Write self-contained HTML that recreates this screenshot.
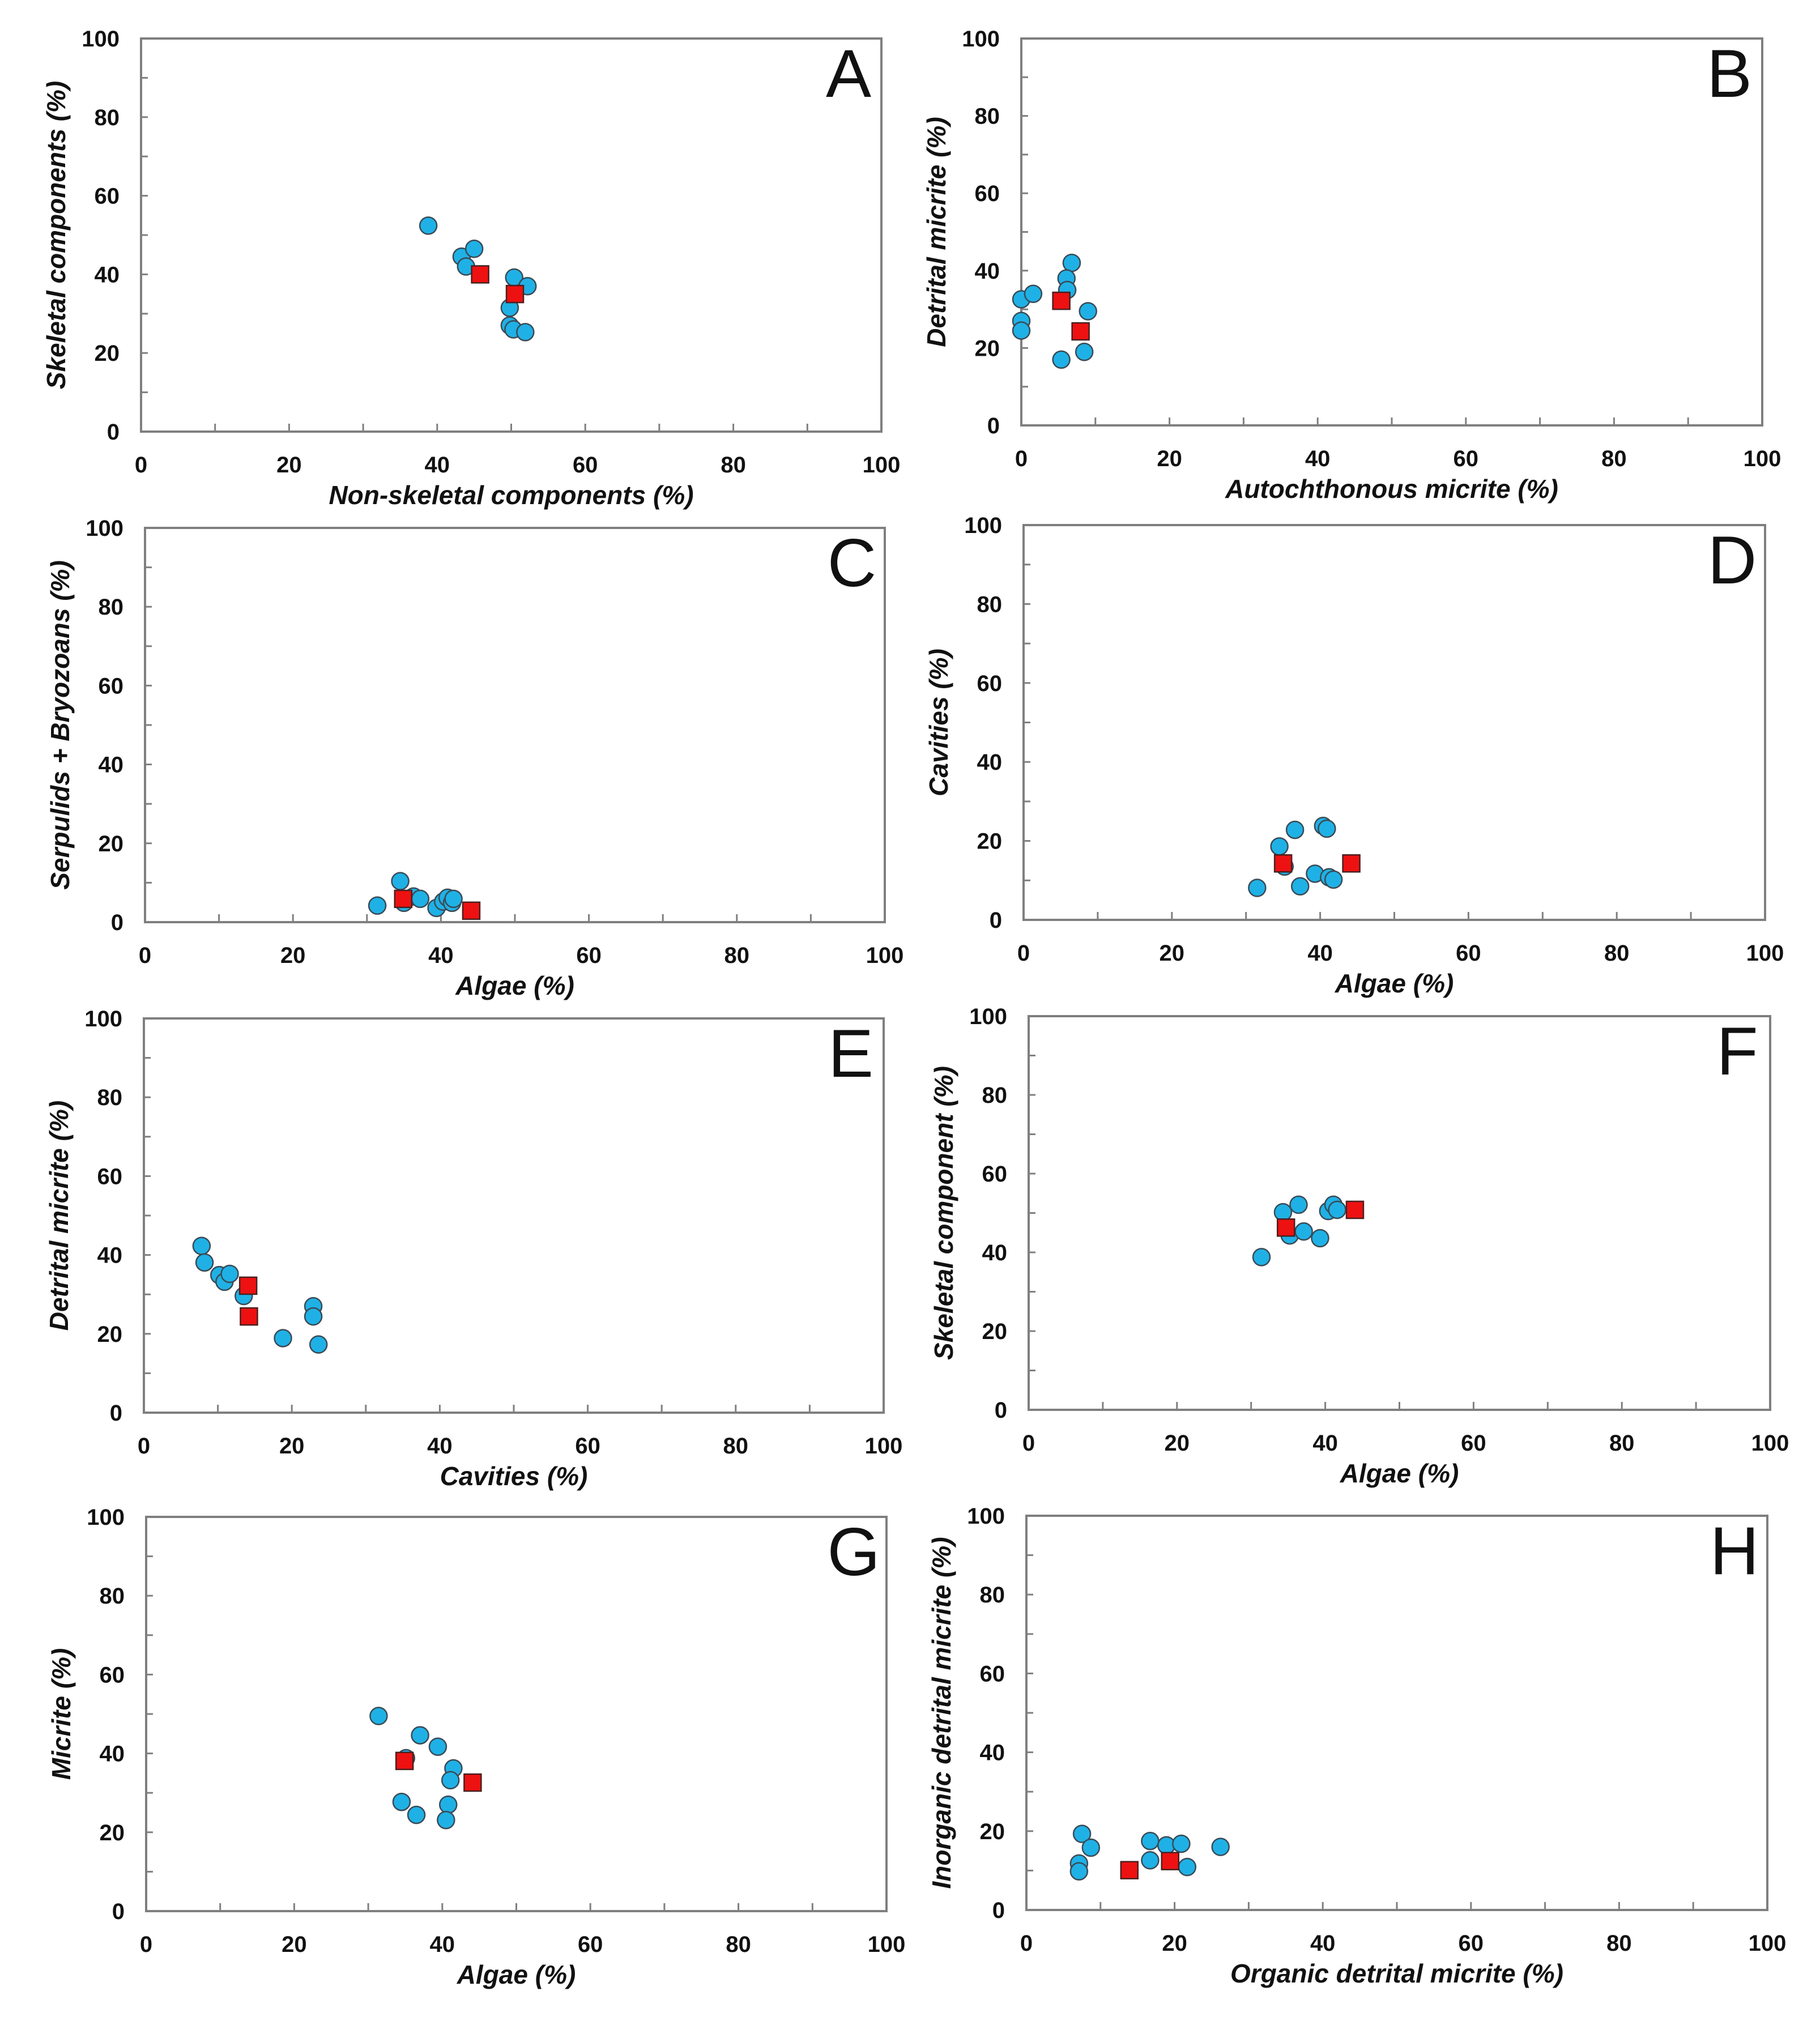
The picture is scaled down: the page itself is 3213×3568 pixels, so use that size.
<!DOCTYPE html>
<html><head><meta charset="utf-8"><style>
html,body{margin:0;padding:0;background:#fff}
svg{display:block}
text{font-family:"Liberation Sans Narrow","Liberation Sans",sans-serif;fill:#111}
</style></head><body>
<svg id="fig" width="3213" height="3568" viewBox="0 0 3213 3568" xmlns="http://www.w3.org/2000/svg"></svg>
<script>
const panelIds = ["A","B","C","D","E","F","G","H"];
const xTitles = ["Non-skeletal components (%)","Autochthonous micrite (%)","Algae (%)","Algae (%)","Cavities (%)","Algae (%)","Algae (%)","Organic detrital micrite (%)"];
const yTitles = ["Skeletal components (%)","Detrital micrite (%)","Serpulids + Bryozoans (%)","Cavities (%)","Detrital micrite (%)","Skeletal component (%)","Micrite (%)","Inorganic detrital micrite (%)"];
const tickValues = [0,20,40,60,80,100];
const minorTicks = [10,20,30,40,50,60,70,80,90];

const circA_x = [38.8,43.3,43.9,45,50.4,52.2,49.8,49.8,50.3,51.9];
const circA_y = [52.4,44.5,42,46.5,39.2,37,31.5,27,26,25.3];
const sqA_x = [45.8,50.5];
const sqA_y = [40,35];

const circB_x = [0,0,0,1.6,6.8,6.1,6.2,9,8.5,5.4];
const circB_y = [32.6,27,24.5,34,42,38,35,29.5,19,17];
const sqB_x = [5.4,8];
const sqB_y = [32.2,24.3];

const circC_x = [31.4,34.5,35,36.3,37.2,39.4,40.3,40.9,41.5,41.7];
const circC_y = [4.2,10.4,4.9,6.5,5.9,3.6,5.2,6.2,4.9,5.9];
const sqC_x = [34.9,44.1];
const sqC_y = [5.9,2.9];

const circD_x = [31.5,34.5,35.2,36.6,37.3,39.3,40.4,40.9,41.2,41.8];
const circD_y = [8.1,18.6,13.5,22.8,8.5,11.7,23.8,23.1,10.8,10.2];
const sqD_x = [35,44.2];
const sqD_y = [14.3,14.3];

const circE_x = [7.8,8.2,10.2,10.9,11.6,13.5,18.8,22.9,22.9,23.6];
const circE_y = [42.3,38.1,34.9,33.2,35.2,29.6,18.9,27,24.4,17.3];
const sqE_x = [14.1,14.2];
const sqE_y = [32.2,24.4];

const circF_x = [31.4,34.3,35.2,36.4,37.1,39.3,40.4,41.1,41.6];
const circF_y = [38.8,50.2,44.3,52.1,45.3,43.6,50.5,52.1,50.8];
const sqF_x = [34.7,44];
const sqF_y = [46.3,50.8];

const circG_x = [31.4,37,39.4,35.1,41.5,41.1,34.5,40.8,36.5,40.5];
const circG_y = [49.5,44.6,41.7,38.8,36.2,33.2,27.7,27,24.4,23.1];
const sqG_x = [34.9,44.1];
const sqG_y = [38.1,32.6];

const circH_x = [7.5,8.7,7.1,7.1,16.7,16.7,18.9,20.9,21.7,26.2];
const circH_y = [19.3,15.8,11.8,9.8,17.5,12.6,16.4,16.8,10.9,16];
const sqH_x = [13.9,19.4];
const sqH_y = [10.1,12.4];

const circX = [circA_x,circB_x,circC_x,circD_x,circE_x,circF_x,circG_x,circH_x];
const circY = [circA_y,circB_y,circC_y,circD_y,circE_y,circF_y,circG_y,circH_y];
const sqX = [sqA_x,sqB_x,sqC_x,sqD_x,sqE_x,sqF_x,sqG_x,sqH_x];
const sqY = [sqA_y,sqB_y,sqC_y,sqD_y,sqE_y,sqF_y,sqG_y,sqH_y];

// frame boxes [left, top, right, bottom]
const frames = [
 [249,68,1556,762],[1803,68,3111,751],
 [256,932,1562,1628],[1807,927,3116,1624],
 [254,1798,1560,2494],[1816,1794,3125,2489],
 [258,2678,1565,3374],[1812,2676,3120,3372]
];

const NS = "http://www.w3.org/2000/svg";
const svg = document.getElementById("fig");
function mk(tag, attrs, parent){
  const e = document.createElementNS(NS, tag);
  for (const k in attrs) e.setAttribute(k, attrs[k]);
  (parent||svg).appendChild(e);
  return e;
}

panelIds.forEach((id, i) => {
  const [L,T,R,B] = frames[i];
  const sx = v => L + (R-L)*v/100;
  const sy = v => B - (B-T)*v/100;
  const g = mk("g", {});
  
  

  const fr = mk("rect", {x:L, y:T, width:R-L, height:B-T, fill:"none", stroke:"#7f7f7f", "stroke-width":4}, g);
  
  

  minorTicks.forEach(t => {
    const tx = mk("line", {x1:sx(t), x2:sx(t), y1:B, y2:B-14, stroke:"#7f7f7f", "stroke-width":3}, g);
    
    
    const ty = mk("line", {x1:L, x2:L+12, y1:sy(t), y2:sy(t), stroke:"#7f7f7f", "stroke-width":3}, g);
    
    
  });

  tickValues.forEach(t => {
    const xl = mk("text", {x:sx(t), y:B+72, "font-size":40, "font-weight":"bold", "text-anchor":"middle"}, g);
    xl.textContent = t;
    
    
    const yl = mk("text", {x:L-38, y:sy(t)+14, "font-size":40, "font-weight":"bold", "text-anchor":"end"}, g);
    yl.textContent = t;
    
    
  });

  const xt = mk("text", {x:(L+R)/2, y:B+128, "font-size":46, "font-weight":"bold", "font-style":"italic", "text-anchor":"middle"}, g);
  xt.textContent = xTitles[i];
  
  
  const cy = (T+B)/2;
  const yt = mk("text", {x:L-150+16, y:cy, "font-size":46, "font-weight":"bold", "font-style":"italic", "text-anchor":"middle", transform:`rotate(-90 ${L-134} ${cy})`}, g);
  yt.textContent = yTitles[i];
  
  

  const pl = mk("text", {x:R-58, y:T+103, "font-size":120, "text-anchor":"middle", "font-family":"Liberation Sans, sans-serif"}, g);
  pl.textContent = id;
  
  

  circX[i].forEach((xv, k) => {
    const c = mk("circle", {cx:sx(xv), cy:sy(circY[i][k]), r:15, fill:"#1fb1e6", stroke:"#3a4a55", "stroke-width":2.5}, g);
    
    
  });
  sqX[i].forEach((xv, k) => {
    const s = mk("rect", {x:sx(xv)-15, y:sy(sqY[i][k])-15, width:30, height:30, fill:"#ee1111", stroke:"#4a2020", "stroke-width":2.5}, g);
    
    
  });
});
</script>
</body></html>
